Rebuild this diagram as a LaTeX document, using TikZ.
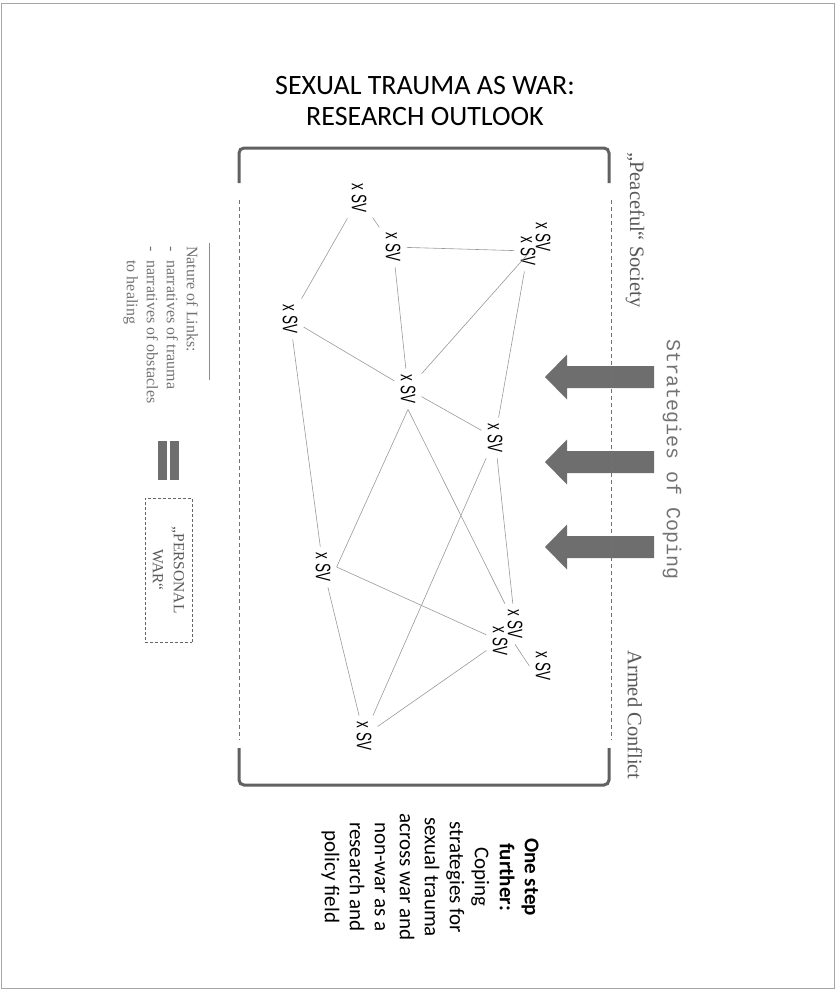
\documentclass[tikz,border=0pt]{standalone}
\usepackage{fontspec}
\setmainfont{Liberation Serif}
\setmonofont{Liberation Mono}
\newfontfamily\calibri{Carlito}
\newfontfamily\svfont[FakeStretch=0.64]{Liberation Sans}

\begin{document}
\begin{tikzpicture}[x=1pt, y=-1pt,
    sv/.style={rotate=-90, inner sep=6pt, font=\svfont\fontsize{21}{21}\selectfont},
    link/.style={black!40, line width=0.6pt},
    bracket/.style={black!62, line width=3pt, rounded corners=5pt},
    side/.style={black!55, line width=0.8pt, dash pattern=on 4pt off 3pt},
    sidelabel/.style={rotate=-90, text=black!65, font=\fontsize{20.5}{24}\selectfont}]
    \useasboundingbox (0,0) rectangle (837,991);

    % Frame
    \draw[black!35, line width=1pt] (1.5,3.5) rectangle (834.5,988.5);

    % Title
    \node[font=\calibri\fontsize{28}{31}\selectfont, align=center] (title) at (425,101) {SEXUAL TRAUMA AS WAR:\\RESEARCH OUTLOOK};

    % Brackets
    \draw[bracket] (239,183) -- (239,148) -- (609,148) -- (609,183);
    \draw[bracket] (239,748) -- (239,785) -- (609,785) -- (609,748);

    % Coping arrows
    \foreach \y in {377,462,547}
        \fill[black!57] (654,\y-11) -- (567,\y-11) -- (567,\y-22.5) -- (545,\y) -- (567,\y+22.5) -- (567,\y+11) -- (654,\y+11) -- cycle;

    % Dashed sides
    \draw[side] (239,200) -- (239,740);
    \draw[side] (611,200) -- (611,740);

    % Side labels
    \node[sidelabel] (peace) at (635,230) {„Peaceful“ Society};
    \node[sidelabel] (armed) at (635,715) {Armed Conflict};
    \node[rotate=-90, text=black!55, font=\ttfamily\fontsize{20}{20}\selectfont] (coping) at (672,460) {Strategies of Coping};

    % SV nodes
    \node[sv] (sv1) at (359,198) {x SV};
    \node[sv] (sv2) at (393,247) {x SV};
    \node[sv] (sv3) at (543,237) {x SV};
    \node[sv] (sv4) at (528,251) {x SV};
    \node[sv] (sv5) at (290,319) {x SV};
    \node[sv] (sv6) at (408,389) {x SV};
    \node[sv] (sv7) at (495,438) {x SV};
    \node[sv] (sv8) at (323,567) {x SV};
    \node[sv] (sv9) at (515,624) {x SV};
    \node[sv] (sv10) at (500,641) {x SV};
    \node[sv] (sv11) at (543,666) {x SV};
    \node[sv] (sv12) at (364,736) {x SV};

    % Links
    \draw[link] (sv1) -- (sv2) (sv1) -- (sv5) (sv2) -- (sv4) (sv2) -- (sv6)
        (sv5) -- (sv6) (sv6) -- (sv3) (sv4) -- (sv7) (sv6) -- (sv7)
        (sv7) -- (sv12) (sv6.east) -- (sv8.north) (sv8.north) -- (sv10)
        (sv6.east) -- (sv9) (sv7) -- (sv9) (sv9.east) -- (sv11.south)
        (sv10) -- (sv12) (sv5) -- (sv8) (sv8) -- (sv12);

    % Legend
    \node[rotate=-90, anchor=north west, inner sep=0pt, text=black!55, font=\fontsize{16}{20}\selectfont] (links) at (201,246)
        {\begin{tabular}{@{}l@{\hspace{9pt}}l@{}}\multicolumn{2}{@{}l}{Nature of Links:}\\ - & narratives of trauma\\ - & narratives of obstacles\\ & to healing\end{tabular}};
    \draw[black!45, line width=0.7pt] (209,243) -- (209,380);
    \fill[black!57] (158,441) rectangle (167,480);
    \fill[black!57] (170,441) rectangle (179,480);
    \node[draw=black!60, dash pattern=on 3pt off 2pt, rotate=-90, minimum width=144pt, minimum height=47pt, align=center, text=black!65, font=\fontsize{15.5}{21}\selectfont] (war) at (168.5,570) {„PERSONAL\\WAR“};

    % One step further
    \node[rotate=-90, align=center, font=\calibri\fontsize{21}{25}\selectfont] (further) at (430,877)
        {\textbf{One step}\\\textbf{further:}\\Coping\\strategies for\\sexual trauma\\across war and\\non-war as a\\research and\\policy field};
\end{tikzpicture}
\end{document}
